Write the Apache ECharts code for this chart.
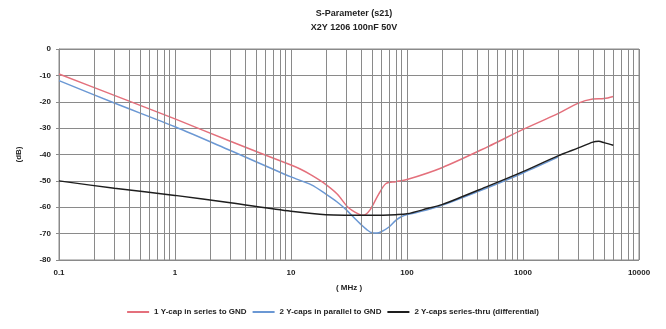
<!DOCTYPE html>
<html><head><meta charset="utf-8">
<script src="https://cdn.jsdelivr.net/npm/echarts@6/dist/echarts.min.js"></script>
<style>html,body{margin:0;padding:0;background:#fff}#c{width:666px;height:329px}</style>
</head><body><div id="c"></div>
<script>
const titleLines = ['S-Parameter (s21)', 'X2Y 1206 100nF 50V'];
const seriesNames = ['1 Y-cap in series to GND', '2 Y-caps in parallel to GND', '2 Y-caps series-thru (differential)'];
const xTickLabels = ['0.1', '1', '10', '100', '1000', '10000'];

const redFreq = [0.1, 0.3, 1, 3, 10, 12, 15, 19, 25, 31, 38, 42, 48, 57, 66, 80, 100, 200, 500, 1000, 2000, 3000, 4000, 5000, 6000];
const redDb   = [-9.5, -17.6, -26.5, -35, -44, -45.5, -47.8, -50.7, -55, -60, -62.5, -63, -61, -55, -51, -50.3, -49.5, -45, -37, -30.5, -24.5, -20.5, -19, -18.8, -18];

const blueFreq = [0.1, 0.3, 1, 3, 10, 15, 20, 25, 30, 35, 40, 45, 50, 55, 60, 70, 80, 90, 100, 150, 200, 500, 1000, 2000];
const blueDb   = [-12, -20.5, -29.5, -38.5, -48.5, -51.5, -55, -58, -61, -64, -66.5, -68.5, -69.7, -69.8, -69.3, -67.5, -65, -63.5, -62.8, -61, -59.3, -52.5, -47, -41];

const blackFreq = [0.1, 0.3, 1, 3, 10, 20, 50, 80, 100, 150, 200, 500, 1000, 2000, 3000, 4000, 4500, 5000, 6000];
const blackDb   = [-50, -52.8, -55.5, -58.3, -61.5, -62.8, -63, -62.8, -62.5, -60.5, -59, -52, -46.5, -40.5, -37.5, -35.3, -35, -35.5, -36.5];

const zip = (a, b) => a.map((v, i) => [v, b[i]]);

const minorX = [];
[0.1, 1, 10, 100, 1000].forEach(d => { for (let k = 2; k <= 9; k++) minorX.push({ xAxis: +(d * k).toPrecision(3) }); });

const font = 'Liberation Sans';
const gridColor = '#8a8a8a';
const chart = echarts.init(document.getElementById('c'));
chart.setOption({
  animation: false,
  backgroundColor: '#fff',
  title: {
    text: titleLines.join('\n'),
    left: 349, top: 2, textAlign: 'center',
    textStyle: { fontFamily: font, fontSize: 9, fontWeight: 'bold', color: '#222', lineHeight: 14 }
  },
  legend: {
    bottom: 8, left: 'center', itemWidth: 22, itemHeight: 2, itemGap: 6,
    icon: 'rect',
    textStyle: { fontFamily: font, fontSize: 8, fontWeight: 'bold', color: '#222' },
    data: seriesNames
  },
  grid: { left: 59, right: 27, top: 49, bottom: 69, show: true, borderColor: gridColor, borderWidth: 1 },
  xAxis: {
    type: 'log', logBase: 10, min: 0.1, max: 10000,
    name: '( MHz )', nameLocation: 'middle', nameGap: 24,
    nameTextStyle: { fontFamily: font, fontSize: 8, fontWeight: 'bold', color: '#222' },
    axisLine: { show: true, lineStyle: { color: gridColor } },
    axisTick: { show: true, length: 3, lineStyle: { color: gridColor } },
    axisLabel: { fontFamily: font, fontSize: 8, fontWeight: 'bold', color: '#222', margin: 9,
      formatter: v => { const i = Math.round(Math.log10(v) + 1); return xTickLabels[i] ?? ''; } },
    splitLine: { show: true, lineStyle: { color: gridColor, width: 1 } }
  },
  yAxis: {
    type: 'value', min: -80, max: 0, interval: 10,
    name: '(dB)', nameLocation: 'middle', nameGap: 36, nameRotate: 90,
    nameTextStyle: { fontFamily: font, fontSize: 8, fontWeight: 'bold', color: '#222' },
    axisLine: { show: true, lineStyle: { color: gridColor } },
    axisTick: { show: true, length: 3, lineStyle: { color: gridColor } },
    axisLabel: { fontFamily: font, fontSize: 8, fontWeight: 'bold', color: '#222', margin: 8 },
    splitLine: { show: true, lineStyle: { color: gridColor, width: 1 } }
  },
  series: [
    { name: seriesNames[0], type: 'line', data: zip(redFreq, redDb), smooth: 0.3, showSymbol: false,
      color: '#e4707c', lineStyle: { width: 1.5 }, z: 3,
      markLine: { silent: true, symbol: 'none', label: { show: false },
        lineStyle: { color: gridColor, width: 1, type: 'solid' }, data: minorX } },
    { name: seriesNames[1], type: 'line', data: zip(blueFreq, blueDb), smooth: 0.3, showSymbol: false,
      color: '#6b98d4', lineStyle: { width: 1.5 }, z: 4 },
    { name: seriesNames[2], type: 'line', data: zip(blackFreq, blackDb), smooth: 0.3, showSymbol: false,
      color: '#1e1e1e', lineStyle: { width: 1.5 }, z: 5 }
  ]
});
</script></body></html>
